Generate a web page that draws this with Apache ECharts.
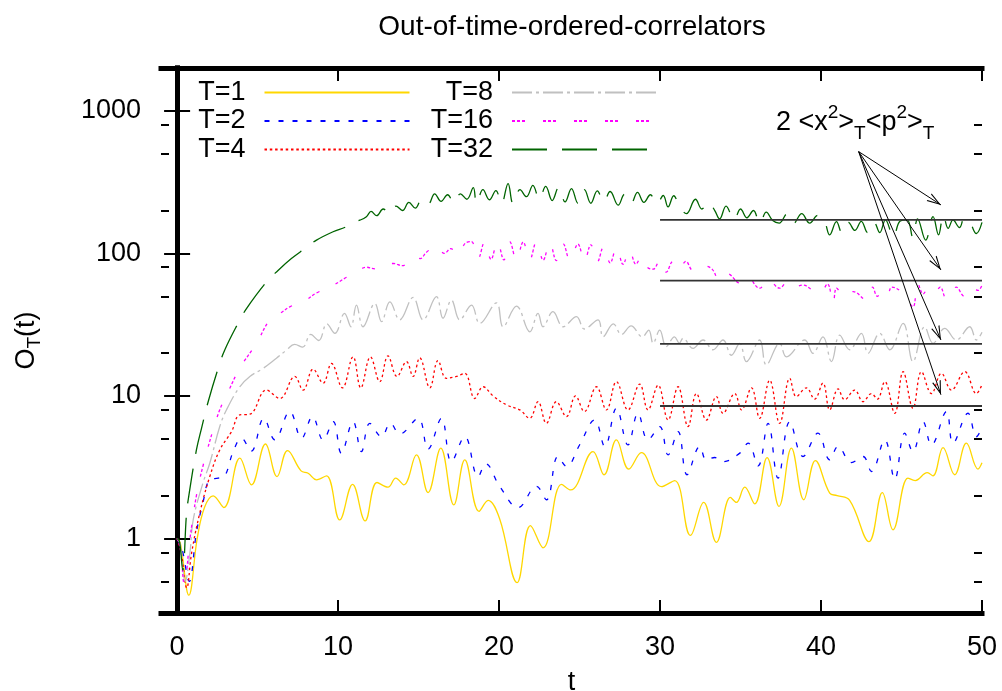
<!DOCTYPE html>
<html>
<head>
<meta charset="utf-8">
<title>Out-of-time-ordered-correlators</title>
<style>
  html, body { margin: 0; padding: 0; background: #fff; }
  #main { width: 1002px; height: 691px; }
</style>
</head>
<body>
<div id="main"></div>
<script src="https://cdn.jsdelivr.net/npm/echarts@6/dist/echarts.min.js"></script>
<script>
// values: [t, O_T(t)]
var seriesNames = ['T=1', 'T=2', 'T=4', 'T=8', 'T=16', 'T=32'];

var t1 = [[0,1],[0.2,0.93],[0.73,0.40],[1.25,1.0],[1.7,1.65],[2.24,1.99],[2.9,1.65],[3.9,3.66],[4.62,2.38],[5.49,4.6],[6.21,2.72],[6.86,4.14],[7.7,2.98],[8.14,2.87],[8.66,2.58],[9.28,2.75],[10.1,1.35],[10.9,2.4],[11.68,1.33],[12.42,2.47],[13.1,2.29],[13.58,2.65],[14.08,2.38],[14.87,3.86],[15.59,2.1],[16.38,4.3],[17.19,1.72],[17.87,3.56],[18.76,1.55],[19.32,1.85],[20.04,1.37],[21.12,0.49],[21.95,1.23],[22.73,0.86],[23.88,2.4],[24.45,2.19],[25.84,4.07],[26.52,2.8],[27.29,4.92],[28.06,3.07],[28.84,4.0],[30.09,2.31],[30.91,2.55],[31.89,1.05],[32.71,1.79],[33.5,0.94],[34.37,1.94],[34.74,1.79],[35.26,2.29],[35.88,1.75],[36.65,3.69],[37.39,1.68],[38.16,4.3],[38.93,1.87],[39.65,3.52],[40.54,2.08],[41.0,2.0],[41.78,1.85],[42.98,0.95],[43.81,2.1],[44.47,1.15],[45.4,2.65],[45.85,2.55],[46.6,2.9],[46.95,2.75],[47.58,4.34],[48.3,2.8],[49.03,4.66],[49.75,3.07],[50,3.4]];

var t2 = [[0,1],[0.3,0.85],[0.75,0.5],[1.2,1.1],[1.6,1.77],[2.03,2.58],[2.55,2.65],[2.9,2.7],[3.52,4.18],[4.0,5.05],[4.6,4.1],[5.39,6.97],[6.07,4.92],[7.0,7.77],[7.73,5.05],[8.41,7.16],[9.07,4.92],[9.7,6.6],[10.2,3.97],[10.93,6.6],[11.45,4.07],[11.97,6.43],[12.7,5.18],[13.25,6.43],[13.83,5.41],[14.97,6.97],[15.59,4.23],[16.42,6.97],[17.04,3.46],[17.87,5.18],[18.7,2.72],[19.17,3.34],[20.04,2.32],[21.18,1.65],[22.32,2.32],[22.94,1.87],[23.66,3.76],[24.19,3.2],[25.0,4.53],[25.94,6.78],[26.57,4.42],[27.29,8.2],[28.01,4.53],[28.63,7.56],[29.25,4.92],[29.98,6.1],[30.5,3.86],[31.12,5.62],[31.68,2.8],[32.47,4.42],[32.88,3.56],[33.4,3.7],[33.91,3.46],[34.95,3.97],[35.47,4.66],[36.09,3.23],[36.71,6.43],[37.33,2.65],[38.06,6.6],[38.88,3.76],[39.81,5.48],[40.54,3.56],[41.06,4.42],[41.89,3.41],[42.61,3.76],[43.13,2.95],[43.96,4.92],[44.58,2.61],[45.2,5.48],[45.71,4.07],[46.34,6.6],[46.86,4.53],[47.79,7.77],[48.2,4.66],[49.13,7.56],[49.65,5.18],[50,6.0]];

var t4 = [[0,1],[0.25,0.8],[0.6,0.45],[0.9,0.79],[1.41,1.51],[2.03,2.72],[2.65,4.18],[3.38,5.62],[3.89,7.36],[4.52,7.45],[5.55,11.0],[6.38,9.61],[7.31,13.7],[7.83,11.0],[8.45,15.4],[9.07,12.3],[9.59,16.9],[10.27,11.4],[10.93,18.8],[11.41,11.4],[12.01,18.8],[12.59,12.6],[13.1,19.1],[13.66,13.7],[14.25,17.4],[14.66,13.7],[15.07,18.5],[15.7,11.4],[16.21,17.7],[16.73,13.3],[17.35,13.7],[17.87,14.4],[18.49,9.6],[19.01,11.6],[19.63,10.0],[20.46,8.66],[21.29,7.98],[21.9,6.97],[22.42,9.11],[22.94,6.43],[23.56,9.11],[24.19,7.16],[24.75,10.0],[25.3,7.77],[26.05,11.6],[26.67,7.98],[27.29,12.6],[28.01,7.98],[28.74,12.1],[29.25,7.98],[29.88,11.9],[30.5,6.78],[31.12,11.6],[31.74,6.1],[32.26,10.4],[32.88,6.78],[33.5,9.9],[33.91,7.56],[34.64,10.4],[35.06,7.98],[35.68,11.4],[36.19,6.97],[36.81,12.9],[37.43,6.43],[38.06,13.3],[38.47,9.9],[39.09,11.4],[39.6,9.5],[40.12,12.3],[40.54,7.98],[41.06,11.2],[41.47,9.4],[42.09,11.0],[42.61,9.11],[43.13,10.4],[43.5,9.5],[43.96,12.6],[44.58,7.56],[45.1,14.8],[45.71,8.2],[46.24,14.8],[46.86,10.4],[47.48,14.4],[48.1,11.0],[48.93,14.8],[49.65,10.4],[50,12]];

var t8 = [[0,1],[0.2,0.9],[0.5,0.5],[0.8,0.8],[1.0,1.35],[1.6,2.44],[2.03,3.37],[2.65,6.1],[3.07,8.0],[3.89,11.6],[4.52,13.7],[5.3,15.5],[6.17,18.4],[6.8,21],[7.3,23],[7.8,22],[8.3,27],[8.8,24.5],[9.3,32],[9.8,27.5],[10.4,38],[10.8,30.6],[11.14,43.4],[11.55,30.6],[12.28,44.5],[12.7,33.2],[13.22,45.7],[13.83,34.2],[14.66,49.1],[15.28,34.2],[16.11,49.7],[16.52,35.1],[17.04,47],[17.56,34.2],[18.29,43.4],[18.8,32.3],[19.84,45],[20.25,30.6],[21.08,42.7],[21.91,28.2],[22.42,38],[22.73,30.6],[23.35,39],[23.98,30.6],[24.81,36],[25.3,29.5],[26.15,34.2],[26.46,26],[27.1,32],[27.6,27],[28.2,31],[28.9,26],[29.3,29],[29.57,23.4],[29.98,29],[30.39,22.2],[30.9,26],[31.2,23.5],[31.43,25.4],[32.05,21.6],[32.67,24.7],[33.29,21.1],[33.91,24.7],[34.43,19.3],[34.95,23.4],[35.37,17.4],[36.19,24.7],[36.6,16.5],[37.43,23.4],[37.85,18.8],[38.99,24.7],[39.5,19.9],[40.12,26],[40.65,17.4],[41.16,26.7],[41.78,21.1],[42.51,27.5],[42.92,19.9],[43.65,27.5],[44.27,21.1],[45.1,32.3],[45.71,17.4],[46.44,30.6],[46.96,23.4],[47.68,29.8],[48.41,24.7],[49.24,30.6],[49.65,24.7],[50,28]];

var t16 = [[0,1],[0.2,0.85],[0.45,0.48],[0.8,1.0],[1.2,2.0],[1.6,3.2],[2.24,5.8],[2.65,8.0],[3.07,10.1],[3.89,15.6],[4.93,23.4],[5.76,34.2],[6.4,38],[7.0,42.2],[7.6,45],[8.0,47],[8.66,52.8],[9.5,58],[10.52,68],[11.2,75],[11.76,80],[12.3,78],[12.8,82],[13.42,85],[14.0,82],[14.66,94.5],[15.1,92],[15.49,102],[16.11,113],[16.6,100],[17.0,108],[17.45,98],[17.9,118],[18.28,121],[18.7,92],[19.1,120],[19.5,91],[19.9,121],[20.3,90],[20.66,121],[21.08,90],[21.5,120],[21.9,90],[22.32,120],[22.74,90],[23.15,119],[23.56,89],[23.98,117],[24.4,90],[24.9,116],[25.3,88],[25.7,115],[26.1,87],[26.5,112],[26.9,86],[27.3,110],[27.7,84],[28.1,106],[28.5,84],[28.84,95],[29.2,80],[29.57,77.5],[30.0,90],[30.39,74],[30.8,88],[31.2,78],[31.6,88],[32.05,76],[32.6,82],[33.19,78.5],[33.71,65],[34.2,72],[34.95,62],[35.4,68.5],[36.19,57],[36.7,66],[37.43,57],[37.9,63],[38.3,58],[38.9,60],[39.4,56],[39.92,52.5],[40.4,61],[40.75,44.5],[40.96,57],[41.3,52],[41.57,50],[42.0,54],[42.82,47],[43.2,58],[43.5,50],[43.8,54],[44.1,50],[44.4,58],[45.1,52.5],[45.71,42.3],[46.0,62],[46.35,52],[46.7,58],[47.1,54],[47.4,58],[47.79,48],[48.4,58],[48.9,50],[49.4,58],[49.75,55],[50,60]];

var t32 = [[0,1],[0.15,0.95],[0.35,0.6],[0.58,1.47],[0.69,1.87],[1.2,4.18],[1.52,5.95],[1.93,9.11],[2.55,15.6],[2.96,21],[3.79,32.4],[4.31,41],[5.55,63],[6.27,76],[7.1,92],[7.93,108],[8.66,124],[9.69,142],[10.52,154],[10.9,165],[11.35,171],[11.76,181],[12.05,197],[12.4,184],[12.8,205],[13.2,190],[13.6,215],[14.0,200],[14.4,228],[14.8,208],[15.2,240],[15.6,222],[16.0,262],[16.4,232],[16.8,258],[17.2,226],[17.6,262],[18.0,240],[18.4,290],[18.6,225],[19.0,280],[19.4,238],[19.8,276],[20.15,224],[20.56,309],[20.87,224],[21.3,280],[21.7,250],[22.1,300],[22.5,240],[22.9,295],[23.3,235],[23.7,290],[24.1,230],[24.5,285],[24.9,225],[25.3,280],[25.7,225],[26.1,275],[26.5,230],[26.9,272],[27.4,218],[27.8,260],[28.2,225],[28.6,268],[29.0,228],[29.4,258],[29.8,222],[30.2,255],[30.5,212],[30.85,254],[31.2,215],[31.64,190],[32.2,240],[32.6,205],[33.0,228],[33.4,200],[33.7,175],[34.1,215],[34.6,172],[35.0,205],[35.4,178],[35.8,200],[36.2,163],[36.6,195],[37.0,170],[37.4,163],[37.9,190],[38.3,163],[38.8,190],[39.3,163],[39.8,185],[40.2,170],[40.54,135],[40.96,167],[41.3,140],[41.7,165],[42.1,145],[42.5,168],[42.9,140],[43.3,165],[43.65,140],[44.0,172],[44.5,131],[44.9,168],[45.35,172],[45.7,130],[46.0,175],[46.5,124],[46.96,181],[47.3,135],[47.6,185],[47.9,150],[48.2,172],[48.6,152],[48.9,175],[49.24,165],[49.65,138],[50,165]];

var seriesData = [t1, t2, t4, t8, t16, t32];
var seriesColors = ['#ffd700', '#0000ff', '#ff0000', '#c0c0c0', '#ff00ff', '#006400'];
var seriesDash = ['solid', [5, 9], [2.5, 2.8], [20, 4, 3, 4], [3, 2, 3, 2, 3, 18], [35, 15]];

var xTicks = [0, 10, 20, 30, 40, 50];
var yTicks = [1, 10, 100, 1000];
var yMinorTicks = [0.5, 0.8, 2, 5, 8, 20, 50, 80, 200, 500, 800];

// 2 <x^2>_T <p^2>_T levels, drawn from t=30 to t=50
var refLevels = [172, 64.4, 23.2, 8.5];
var refRange = [30, 50];
var arrowFrom = [42.34, 518];
var arrowTips = [[47.45, 219], [47.45, 76.6], [47.45, 24.7], [47.45, 10.2]];

var FONT = '"Liberation Sans", Arial, Helvetica, sans-serif';
var chart = echarts.init(document.getElementById('main'));

var series = [];
for (var i = 0; i < seriesNames.length; i++) {
  series.push({
    name: seriesNames[i],
    type: 'line',
    data: seriesData[i],
    symbol: 'none',
    smooth: 0.4,
    lineStyle: { color: seriesColors[i], width: 1.3, type: seriesDash[i] },
    itemStyle: { color: seriesColors[i] },
    z: 2 + i
  });
}
for (var k = 0; k < refLevels.length; k++) {
  var ref = {
    name: 'ref' + k,
    type: 'line',
    data: [[refRange[0], refLevels[k]], [refRange[1], refLevels[k]]],
    symbol: 'none',
    lineStyle: { color: '#333', width: 1.8 },
    z: 10
  };
  if (k == 0) {
    ref.markLine = {
      silent: true,
      symbol: ['none', 'none'],
      lineStyle: { color: '#000', width: 1, type: 'solid' },
      label: { show: false },
      data: arrowTips.map(function (tip) {
        return [
          { coord: arrowFrom, symbol: 'none' },
          { coord: tip, symbol: 'path://M50,0 L100,100 L87,100 L50,22 L13,100 L0,100 Z', symbolSize: [9, 14], symbolOffset: [0, 7] }
        ];
      }),
      z: 12
    };
  }
  series.push(ref);
}

var legendText = { fontSize: 27, fontFamily: FONT, color: '#000', lineHeight: 27, padding: [0, 14, 0, 0] };
var legendItem = { opacity: 0, color: 'rgba(0,0,0,0)', borderWidth: 0 };

var option = {
  animation: false,
  backgroundColor: '#fff',
  grid: { left: 161, right: 20, top: 68, bottom: 78, outerBoundsMode: 'none', containLabel: false },
  legend: [
    { data: seriesNames.slice(0, 3), orient: 'vertical', align: 'right', right: 591.5, top: 79,
      itemWidth: 145, itemHeight: 20, itemGap: 1.5, padding: 0, selectedMode: false,
      itemStyle: legendItem, textStyle: legendText },
    { data: seriesNames.slice(3), orient: 'vertical', align: 'right', right: 344, top: 79,
      itemWidth: 145, itemHeight: 20, itemGap: 1.5, padding: 0, selectedMode: false,
      itemStyle: legendItem, textStyle: legendText }
  ],
  xAxis: [
    { type: 'value', position: 'bottom', min: -1, max: 50,
      name: 't', nameLocation: 'middle', nameGap: 56,
      nameTextStyle: { fontSize: 27, fontFamily: FONT, color: '#000' },
      axisLine: { lineStyle: { color: '#000', width: 5, cap: 'square' } },
      axisTick: { inside: true, length: 13, customValues: xTicks, lineStyle: { color: '#000', width: 2 } },
      axisLabel: { customValues: xTicks, margin: 21, fontSize: 27, fontFamily: FONT, color: '#000' },
      splitLine: { show: false } },
    { type: 'value', position: 'top', min: -1, max: 50,
      axisLine: { lineStyle: { color: '#000', width: 5, cap: 'square' } },
      axisTick: { inside: true, length: 13, customValues: xTicks, lineStyle: { color: '#000', width: 2 } },
      axisLabel: { show: false }, splitLine: { show: false } }
  ],
  yAxis: [
    { type: 'log', position: 'left', min: 0.3, max: 2000, logBase: 10,
      name: 'O{sub|T}(t)', nameLocation: 'middle', nameRotate: 90, nameGap: 117,
      nameTextStyle: { fontSize: 27, fontFamily: FONT, color: '#000', lineHeight: 34,
        rich: { sub: { fontSize: 19, fontFamily: FONT, color: '#000', lineHeight: 14, verticalAlign: 'bottom' } } },
      axisLine: { lineStyle: { color: '#000', width: 5, cap: 'square' } },
      axisTick: { inside: true, length: 13, customValues: yTicks, lineStyle: { color: '#000', width: 2 } },
      axisLabel: { customValues: yTicks, margin: 20, fontSize: 27, fontFamily: FONT, color: '#000',
        formatter: function (v) { return String(Math.round(v)); } },
      splitLine: { show: false } },
    { type: 'log', position: 'right', min: 0.3, max: 2000, logBase: 10,
      axisLine: { lineStyle: { color: '#000', width: 5, cap: 'square' } },
      axisTick: { inside: true, length: 13, customValues: yTicks, lineStyle: { color: '#000', width: 2 } },
      axisLabel: { show: false }, splitLine: { show: false } },
    { type: 'log', position: 'left', min: 0.3, max: 2000, logBase: 10,
      axisLine: { show: false },
      axisTick: { inside: true, length: 8, customValues: yMinorTicks, lineStyle: { color: '#000', width: 2 } },
      axisLabel: { show: false }, splitLine: { show: false } },
    { type: 'log', position: 'right', min: 0.3, max: 2000, logBase: 10,
      axisLine: { show: false },
      axisTick: { inside: true, length: 8, customValues: yMinorTicks, lineStyle: { color: '#000', width: 2 } },
      axisLabel: { show: false }, splitLine: { show: false } }
  ],
  graphic: [
    { type: 'text', x: 572, y: 27, z: 20,
      style: { text: 'Out-of-time-ordered-correlators', fontSize: 28, fontFamily: FONT, fill: '#000',
        textAlign: 'center', textVerticalAlign: 'middle' } },
    { type: 'text', x: 776, y: 103, z: 20,
      style: { text: '2 <x{sup|2}>{sub|T}<p{sup|2}>{sub|T}', fontSize: 27, fontFamily: FONT, fill: '#000', lineHeight: 40,
        rich: {
          sup: { fontSize: 19, fontFamily: FONT, fill: '#000', lineHeight: 14, verticalAlign: 'top' },
          sub: { fontSize: 19, fontFamily: FONT, fill: '#000', lineHeight: 22, verticalAlign: 'bottom' }
        } } }
  ],
  series: series
};
chart.setOption(option);
</script>
</body>
</html>
